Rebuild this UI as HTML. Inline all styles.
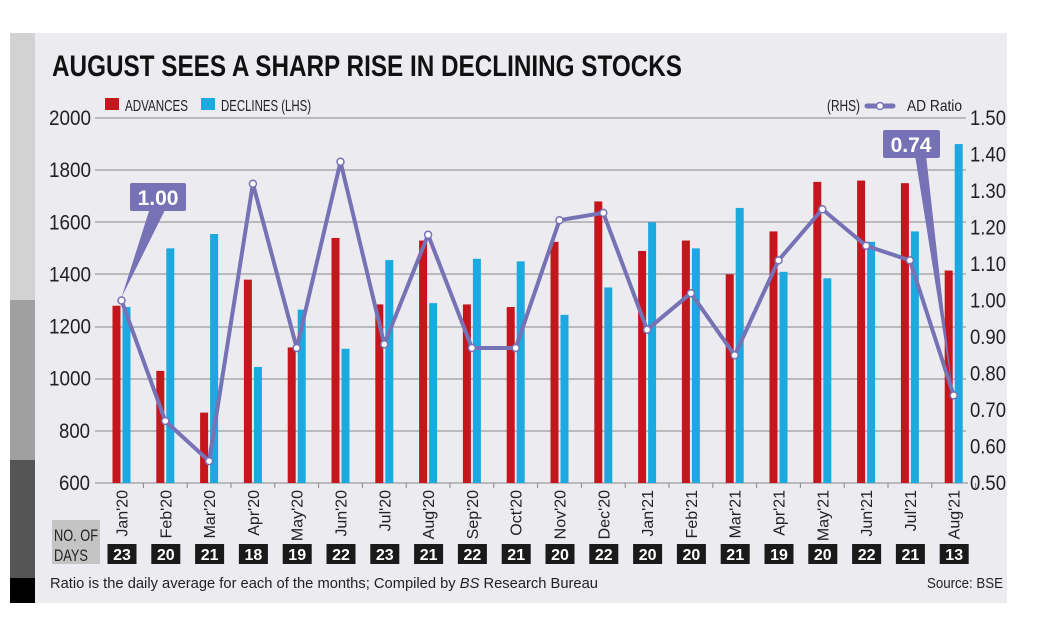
<!DOCTYPE html>
<html><head><style>
body{margin:0;background:#fff;}
svg{display:block;font-family:"Liberation Sans",sans-serif;}
</style></head><body>
<svg width="1044" height="626" viewBox="0 0 1044 626" xmlns="http://www.w3.org/2000/svg">
<rect x="0" y="0" width="1044" height="626" fill="#fff"/>
<rect x="10" y="33" width="997" height="570" fill="#ececf0"/>
<rect x="10" y="33" width="25" height="570" fill="#d2d2d2"/>
<rect x="10" y="300" width="25" height="160" fill="#a0a0a0"/>
<rect x="10" y="460" width="25" height="118" fill="#555"/>
<rect x="10" y="578" width="25" height="25" fill="#000"/>
<text x="52" y="76" font-size="30" font-weight="bold" fill="#111" textLength="630" lengthAdjust="spacingAndGlyphs">AUGUST SEES A SHARP RISE IN DECLINING STOCKS</text>
<g stroke="#888" stroke-width="1">
<line x1="95" y1="118" x2="966" y2="118"/>
<line x1="95" y1="170" x2="966" y2="170"/>
<line x1="95" y1="222" x2="966" y2="222"/>
<line x1="95" y1="274" x2="966" y2="274"/>
<line x1="95" y1="327" x2="966" y2="327"/>
<line x1="95" y1="379" x2="966" y2="379"/>
<line x1="95" y1="431" x2="966" y2="431"/>
<line x1="95" y1="483" x2="968" y2="483"/>
</g>
<g id="yl" font-size="21" fill="#222"></g>
<g id="yr" font-size="21" fill="#222"></g>
<rect x="105" y="98" width="14" height="12" fill="#c4161c"/>
<text x="125" y="111" font-size="16" fill="#222" textLength="63" lengthAdjust="spacingAndGlyphs">ADVANCES</text>
<rect x="201" y="98" width="14" height="12" fill="#1ba9e0"/>
<text x="221" y="111" font-size="16" fill="#222" textLength="90" lengthAdjust="spacingAndGlyphs">DECLINES (LHS)</text>
<text x="827" y="111" font-size="16" fill="#222" textLength="33" lengthAdjust="spacingAndGlyphs">(RHS)</text>
<line x1="867" y1="106" x2="893" y2="106" stroke="#7771b5" stroke-width="5" stroke-linecap="round"/>
<circle cx="880" cy="106" r="3.5" fill="#fff" stroke="#7771b5" stroke-width="1.5"/>
<text x="907" y="111" font-size="16" fill="#222" textLength="55" lengthAdjust="spacingAndGlyphs">AD Ratio</text>
<g id="bars"></g>
<g id="ticks" stroke="#888"></g>
<g id="line"></g>
<g id="labels" font-size="16" fill="#222"></g>
<rect x="52" y="520" width="48" height="44" fill="#c4c4c4"/>
<text x="54" y="541" font-size="17" fill="#222" textLength="44" lengthAdjust="spacingAndGlyphs">NO. OF</text>
<text x="54" y="561" font-size="17" fill="#222" textLength="34" lengthAdjust="spacingAndGlyphs">DAYS</text>
<g id="days" font-size="16" font-weight="bold" fill="#fff" text-anchor="middle"></g>
<text x="50" y="588" font-size="15" fill="#222" textLength="548" lengthAdjust="spacingAndGlyphs">Ratio is the daily average for each of the months; Compiled by <tspan font-style="italic">BS</tspan> Research Bureau</text>
<text x="1003" y="588" font-size="15" fill="#222" text-anchor="end" textLength="76" lengthAdjust="spacingAndGlyphs">Source: BSE</text>
<g id="callouts"></g>
</svg>
<script>
var adv=[1280,1030,870,1380,1120,1540,1285,1530,1285,1275,1525,1680,1490,1530,1400,1565,1755,1760,1750,1415];
var dec=[1275,1500,1555,1045,1265,1115,1455,1290,1460,1450,1245,1350,1600,1500,1655,1410,1385,1525,1565,1900];
var rat=[1.00,0.67,0.56,1.32,0.87,1.38,0.88,1.18,0.87,0.87,1.22,1.24,0.92,1.02,0.85,1.11,1.25,1.15,1.11,0.74];
var lab=["Jan'20","Feb'20","Mar'20","Apr'20","May'20","Jun'20","Jul'20","Aug'20","Sep'20","Oct'20","Nov'20","Dec'20","Jan'21","Feb'21","Mar'21","Apr'21","May'21","Jun'21","Jul'21","Aug'21"];
var days=[23,20,21,18,19,22,23,21,22,21,20,22,20,20,21,19,20,22,21,13];
var NS="http://www.w3.org/2000/svg";
function el(p,t,a,txt){var e=document.createElementNS(NS,t);for(var k in a)e.setAttribute(k,a[k]);if(txt!=null)e.textContent=txt;document.getElementById(p).appendChild(e);return e;}
function yl(v){return 483-(v-600)*365/1400;}
function yr(v){return 483-(v-0.5)*365;}
for(var v=600;v<=2000;v+=200){var s=String(v);el("yl","text",{x:91-(s.length==4?42:32),y:yl(v)+7,textLength:s.length==4?42:31,lengthAdjust:"spacingAndGlyphs"},s);}
for(var k=0;k<=10;k++){var r=0.5+k*0.1;el("yr","text",{x:970,y:yr(r)+7,textLength:36,lengthAdjust:"spacingAndGlyphs"},r.toFixed(2));}
var pts=[];
for(var i=0;i<20;i++){
 var c=121.5+i*43.8;
 el("bars","rect",{x:c-9,y:yl(adv[i]),width:8,height:483-yl(adv[i]),fill:"#c4161c"});
 el("bars","rect",{x:c+1,y:yl(dec[i]),width:8,height:483-yl(dec[i]),fill:"#1ba9e0"});
 el("ticks","line",{x1:c+21.9,y1:483,x2:c+21.9,y2:488});
 pts.push([c,yr(rat[i])]);
 el("labels","text",{x:0,y:0,transform:"translate("+(c+6)+",490) rotate(-90)","text-anchor":"end"},lab[i]);
 el("days","rect",{x:c-14,y:544,width:29,height:20,fill:"#1a1a1a"});
 el("days","text",{x:c+0.5,y:560},days[i]);
}
el("line","polyline",{points:pts.map(function(p){return p.join(",")}).join(" "),fill:"none",stroke:"#7771b5","stroke-width":4,"stroke-linejoin":"round"});
pts.forEach(function(p){el("line","circle",{cx:p[0],cy:p[1],r:3.5,fill:"#fff",stroke:"#7771b5","stroke-width":1.5});});
el("callouts","polygon",{points:"150,208 166,208 "+pts[0][0]+","+(pts[0][1]-3),fill:"#7771b5"});
el("callouts","rect",{x:130,y:183,width:56,height:28,rx:2,fill:"#7771b5"});
el("callouts","text",{x:158,y:205,"font-size":21,"font-weight":"bold",fill:"#fff","text-anchor":"middle"},"1.00");
el("callouts","polygon",{points:"915,155 926,155 "+(pts[19][0]-1)+","+(pts[19][1]-3),fill:"#7771b5"});
el("callouts","rect",{x:883,y:130,width:57,height:28,rx:2,fill:"#7771b5"});
el("callouts","text",{x:911,y:152,"font-size":21,"font-weight":"bold",fill:"#fff","text-anchor":"middle"},"0.74");
</script>
</body></html>
